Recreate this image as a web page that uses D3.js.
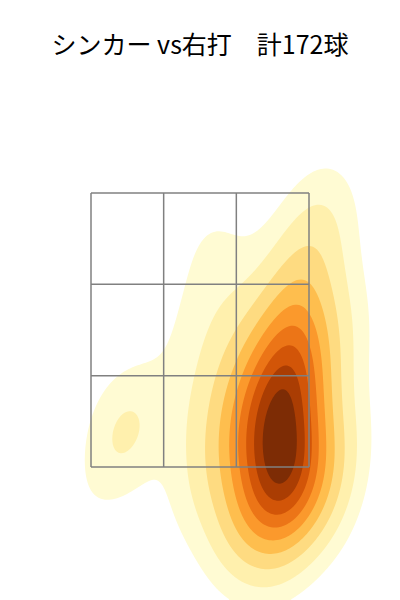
<!DOCTYPE html>
<html>
<head>
<meta charset="utf-8">
<script src="https://cdn.jsdelivr.net/npm/d3@7"></script>
<style>
  body { margin: 0; background: #fff; }
  svg { display: block; }
</style>
</head>
<body>
<div id="chart"></div>
<script>
// pitch locations (feet): horizontal plate_x, height plate_z, and how many pitches at each spot
let plateX = [0.50, 0.63, 0.76, 0.47, 0.61, 0.75, 0.50, 0.63, 0.76, 0.52, 0.65, 0.78, 0.55, 0.69,
              0.69, 0.80, 0.57, 0.72, 0.84, 0.65, 0.80, 0.88, 0.72, 0.95, 1.01, 0.90,
              0.99, 1.07, 1.01, 0.95, 1.10, 1.07,
              0.34, 0.30, 0.38, 0.23, 0.15, 0.11, 0.27, 0.38, 0.19,
              0.42, 0.61, 0.30, 0.19, 0.46, 0.30, 0.57, 0.04, -0.11, 0.76, 0.88,
              0.08, 0.00, 0.11, 0.04, 0.30, -0.04, -0.08, 0.04, -0.15,
              -0.57, -0.61, -0.53, -0.65, -0.88, -0.38];
let plateZ = [2.10, 2.12, 2.08, 1.84, 1.86, 1.83, 1.66, 1.66, 1.64, 1.44, 1.42, 1.44, 1.26, 1.24,
              2.24, 2.39, 2.35, 2.57, 2.72, 2.79, 2.94, 3.12, 3.16, 3.34, 3.41, 3.38,
              2.14, 1.77, 1.48, 1.22, 2.50, 2.86,
              1.99, 1.70, 1.48, 1.84, 1.55, 2.03, 2.28, 2.50, 2.57,
              1.11, 1.08, 1.19, 1.04, 0.89, 0.86, 0.82, 1.19, 1.33, 1.15, 1.30,
              2.28, 2.72, 3.01, 3.23, 2.94, 1.99, 1.70, 1.48, 2.43,
              1.78, 1.70, 1.84, 1.62, 1.22, 1.99];
let counts = [5, 6, 5, 5, 6, 5, 5, 6, 5, 5, 6, 5, 5, 5,
              5, 5, 4, 5, 2, 3, 2, 2, 1, 1, 1, 1,
              2, 2, 3, 2, 2, 1,
              3, 3, 3, 2, 2, 1, 2, 2, 1,
              3, 3, 3, 1, 1, 1, 1, 1, 1, 2, 1,
              1, 1, 1, 1, 1, 1, 1, 1, 1,
              2, 2, 1, 1, 1, 1];

// strike zone edges
let zoneX = [-0.83, 0.83];
let zoneZ = [1.5, 3.5];

let pitchName = "シンカー";
let batter = "右打";

let svgWidth = 400;
let svgHeight = 600;

let svg = d3.select("#chart")
    .append("svg")
    .attr("width", svgWidth)
    .attr("height", svgHeight);

let xScale = d3.scaleLinear().domain(zoneX).range([91, 309]);
let yScale = d3.scaleLinear().domain(zoneZ).range([467, 193]);

// points in pixel space
let pts = plateX.map((d, i) => ({ x: xScale(d), y: yScale(plateZ[i]), w: counts[i] }));
let total = d3.sum(counts);

// gaussian kde, scott's rule (bw_adjust 1.3)
let bwAdjust = 1.3;
let mx = d3.sum(pts, d => d.w * d.x) / total;
let my = d3.sum(pts, d => d.w * d.y) / total;
let sxx = d3.sum(pts, d => d.w * (d.x - mx) ** 2) / total;
let syy = d3.sum(pts, d => d.w * (d.y - my) ** 2) / total;
let sxy = d3.sum(pts, d => d.w * (d.x - mx) * (d.y - my)) / total;
let f2 = Math.pow(total, -1 / 3) * bwAdjust * bwAdjust;
let a = sxx * f2, b = sxy * f2, c = syy * f2;
let det = a * c - b * b;
let ia = c / det, ib = -b / det, ic = a / det;

let step = 2;
let nx = svgWidth / step, ny = svgHeight / step;
let values = new Float64Array(nx * ny);
for (let j = 0; j < ny; j++) {
    for (let i = 0; i < nx; i++) {
        let px = i * step + step / 2, py = j * step + step / 2;
        let s = 0;
        for (let p of pts) {
            let dx = px - p.x, dy = py - p.y;
            s += p.w * Math.exp(-0.5 * (ia * dx * dx + 2 * ib * dx * dy + ic * dy * dy));
        }
        values[j * nx + i] = s;
    }
}

// iso-proportion levels like seaborn (levels=10, thresh=0.05)
let sorted = Float64Array.from(values).sort();
let mass = d3.sum(sorted);
let props = d3.range(9).map(k => 0.05 + k * 0.95 / 9);
let levels = [];
let cum = 0, k = 0;
for (let v of sorted) {
    cum += v;
    while (k < props.length && cum >= props[k] * mass) {
        levels.push(v);
        k++;
    }
}

let contours = d3.contours().size([nx, ny]).thresholds(levels)(values);
let path = d3.geoPath(d3.geoIdentity().scale(step));

svg.append("g")
    .selectAll("path")
    .data(contours)
    .join("path")
    .attr("d", path)
    .attr("fill", (d, i) => d3.interpolateYlOrBr((i + 0.5) / 9));

// strike zone 3x3
let zoneGroup = svg.append("g")
    .attr("fill", "none")
    .attr("stroke", "#808080")
    .attr("stroke-width", 1.5);

d3.range(4).forEach(i => {
    let xv = zoneX[0] + i * (zoneX[1] - zoneX[0]) / 3;
    let zv = zoneZ[0] + i * (zoneZ[1] - zoneZ[0]) / 3;
    zoneGroup.append("line")
        .attr("x1", xScale(xv)).attr("x2", xScale(xv))
        .attr("y1", yScale(zoneZ[0])).attr("y2", yScale(zoneZ[1]));
    zoneGroup.append("line")
        .attr("x1", xScale(zoneX[0])).attr("x2", xScale(zoneX[1]))
        .attr("y1", yScale(zv)).attr("y2", yScale(zv));
});

// title
svg.append("text")
    .attr("x", 200)
    .attr("y", 54)
    .attr("text-anchor", "middle")
    .style("font-family", "'Noto Sans CJK JP', sans-serif")
    .style("font-size", "25px")
    .attr("fill", "#000")
    .text(`${pitchName} vs${batter}　計${total}球`);
</script>
</body>
</html>
